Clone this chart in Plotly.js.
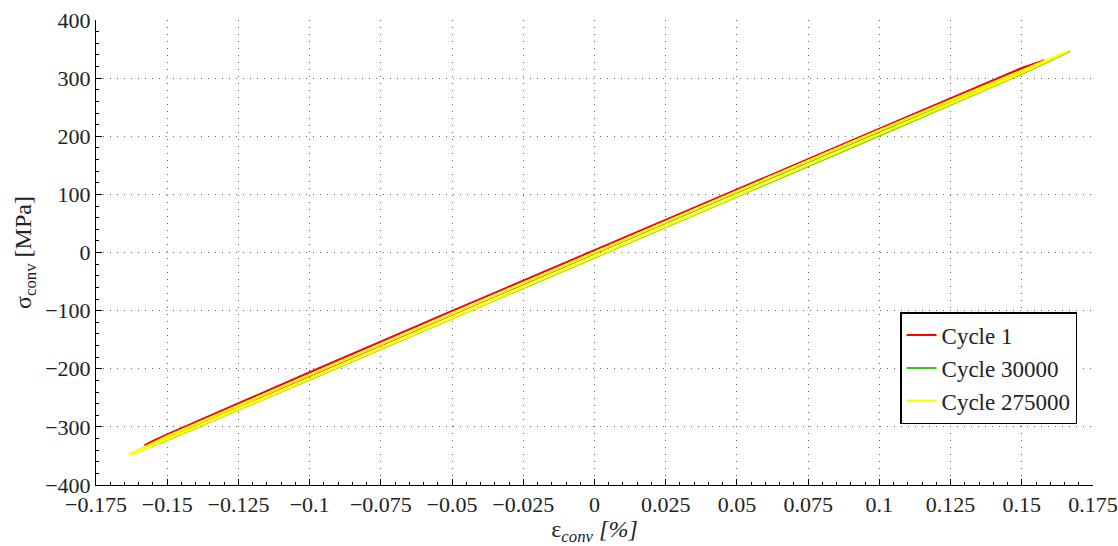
<!DOCTYPE html>
<html>
<head>
<meta charset="utf-8">
<script src="https://cdn.plot.ly/plotly-3.0.1.min.js"></script>
<style>html,body{margin:0;padding:0;background:#fff;}#chart{width:1118px;height:546px;}</style>
</head>
<body>
<div id="chart"></div>
<script>
// Cycle 1 loop (strain %, stress MPa)
var c1Strain = [-0.158, -0.155, -0.15, -0.1, -0.05, 0, 0.05, 0.1, 0.15, 0.158, 0.15, 0.1, 0.05, 0, -0.05, -0.1, -0.15, -0.158];
var c1Stress = [-332, -324, -313, -206, -100.5, 4.5, 108.5, 213, 317.5, 331, 314, 209, 104, -2, -107, -212, -317, -332];
// Cycle 30000 loop
var c30kStrain = [-0.163, -0.15, -0.1, -0.05, 0, 0.05, 0.1, 0.15, 0.1668, 0.15, 0.1, 0.05, 0, -0.05, -0.1, -0.15, -0.163];
var c30kStress = [-347, -317, -211, -106, -1, 103.5, 208, 312, 346, 307.5, 201, 96, -9, -114, -218.5, -322.5, -347];
// Cycle 275000 loop
var c275kStrain = [-0.1635, -0.15, -0.1, -0.05, 0, 0.05, 0.1, 0.15, 0.1665, 0.15, 0.1, 0.05, 0, -0.05, -0.1, -0.15, -0.1635];
var c275kStress = [-348, -316.5, -210.5, -105, 0.5, 105, 210, 314, 347, 309, 203, 97.5, -7.5, -113, -217.5, -321.5, -348];

var legendNames = ["Cycle 1", "Cycle 30000", "Cycle 275000"];
var xTickVals = [-0.175, -0.15, -0.125, -0.1, -0.075, -0.05, -0.025, 0, 0.025, 0.05, 0.075, 0.1, 0.125, 0.15, 0.175];
var xTickText = ["\u22120.175", "\u22120.15", "\u22120.125", "\u22120.1", "\u22120.075", "\u22120.05", "\u22120.025", "0", "0.025", "0.05", "0.075", "0.1", "0.125", "0.15", "0.175"];
var yTickVals = [-400, -300, -200, -100, 0, 100, 200, 300, 400];
var yTickText = ["\u2212400", "\u2212300", "\u2212200", "\u2212100", "0", "100", "200", "300", "400"];

var traces = [
  {x: c1Strain, y: c1Stress, name: legendNames[0], mode: "lines", line: {color: "#ff0000", width: 2}},
  {x: c30kStrain, y: c30kStress, name: legendNames[1], mode: "lines", line: {color: "#44bb22", width: 2}},
  {x: c275kStrain, y: c275kStress, name: legendNames[2], mode: "lines", line: {color: "#ffff00", width: 2.5}}
];

var fam = "Liberation Serif";
var font = {family: fam, size: 22, color: "#222"};

var layout = {
  width: 1118, height: 546,
  margin: {l: 96, r: 25, t: 20, b: 61, pad: 0},
  paper_bgcolor: "#fff", plot_bgcolor: "#fff",
  font: font,
  showlegend: true,
  legend: {
    x: 0.984, y: 0.131, xanchor: "right", yanchor: "bottom",
    bordercolor: "#000", borderwidth: 1.5, bgcolor: "#fff",
    font: {family: fam, size: 23, color: "#222"},
    tracegroupgap: 0
  },
  xaxis: {
    range: [-0.175, 0.175], tickvals: xTickVals, ticktext: xTickText,
    tickfont: {family: fam, size: 22, color: "#222"},
    showline: true, linecolor: "#000", linewidth: 1, mirror: false,
    ticks: "inside", ticklen: 6, tickcolor: "#000",
    showgrid: true, gridcolor: "#666", griddash: "1px,6px", gridwidth: 1,
    zeroline: false,
    minor: {dtick: 0.005, ticks: "inside", ticklen: 3, tickcolor: "#000", showgrid: false},
    title: {text: "\u03b5<sub><i>conv</i></sub><i> [%]</i>", font: {family: fam, size: 24, color: "#222"}, standoff: 3}
  },
  yaxis: {
    range: [-400, 400], tickvals: yTickVals, ticktext: yTickText,
    tickfont: {family: fam, size: 22, color: "#222"},
    showline: true, linecolor: "#000", linewidth: 1, mirror: false,
    ticks: "inside", ticklen: 6, tickcolor: "#000",
    showgrid: true, gridcolor: "#666", griddash: "1px,6px", gridwidth: 1,
    zeroline: false,
    minor: {dtick: 20, ticks: "inside", ticklen: 3, tickcolor: "#000", showgrid: false},
    title: {text: "\u03c3<sub>conv</sub> [MPa]", font: {family: fam, size: 24, color: "#222"}, standoff: 6}
  }
};

Plotly.newPlot("chart", traces, layout, {displayModeBar: false, staticPlot: true});
</script>
</body>
</html>
